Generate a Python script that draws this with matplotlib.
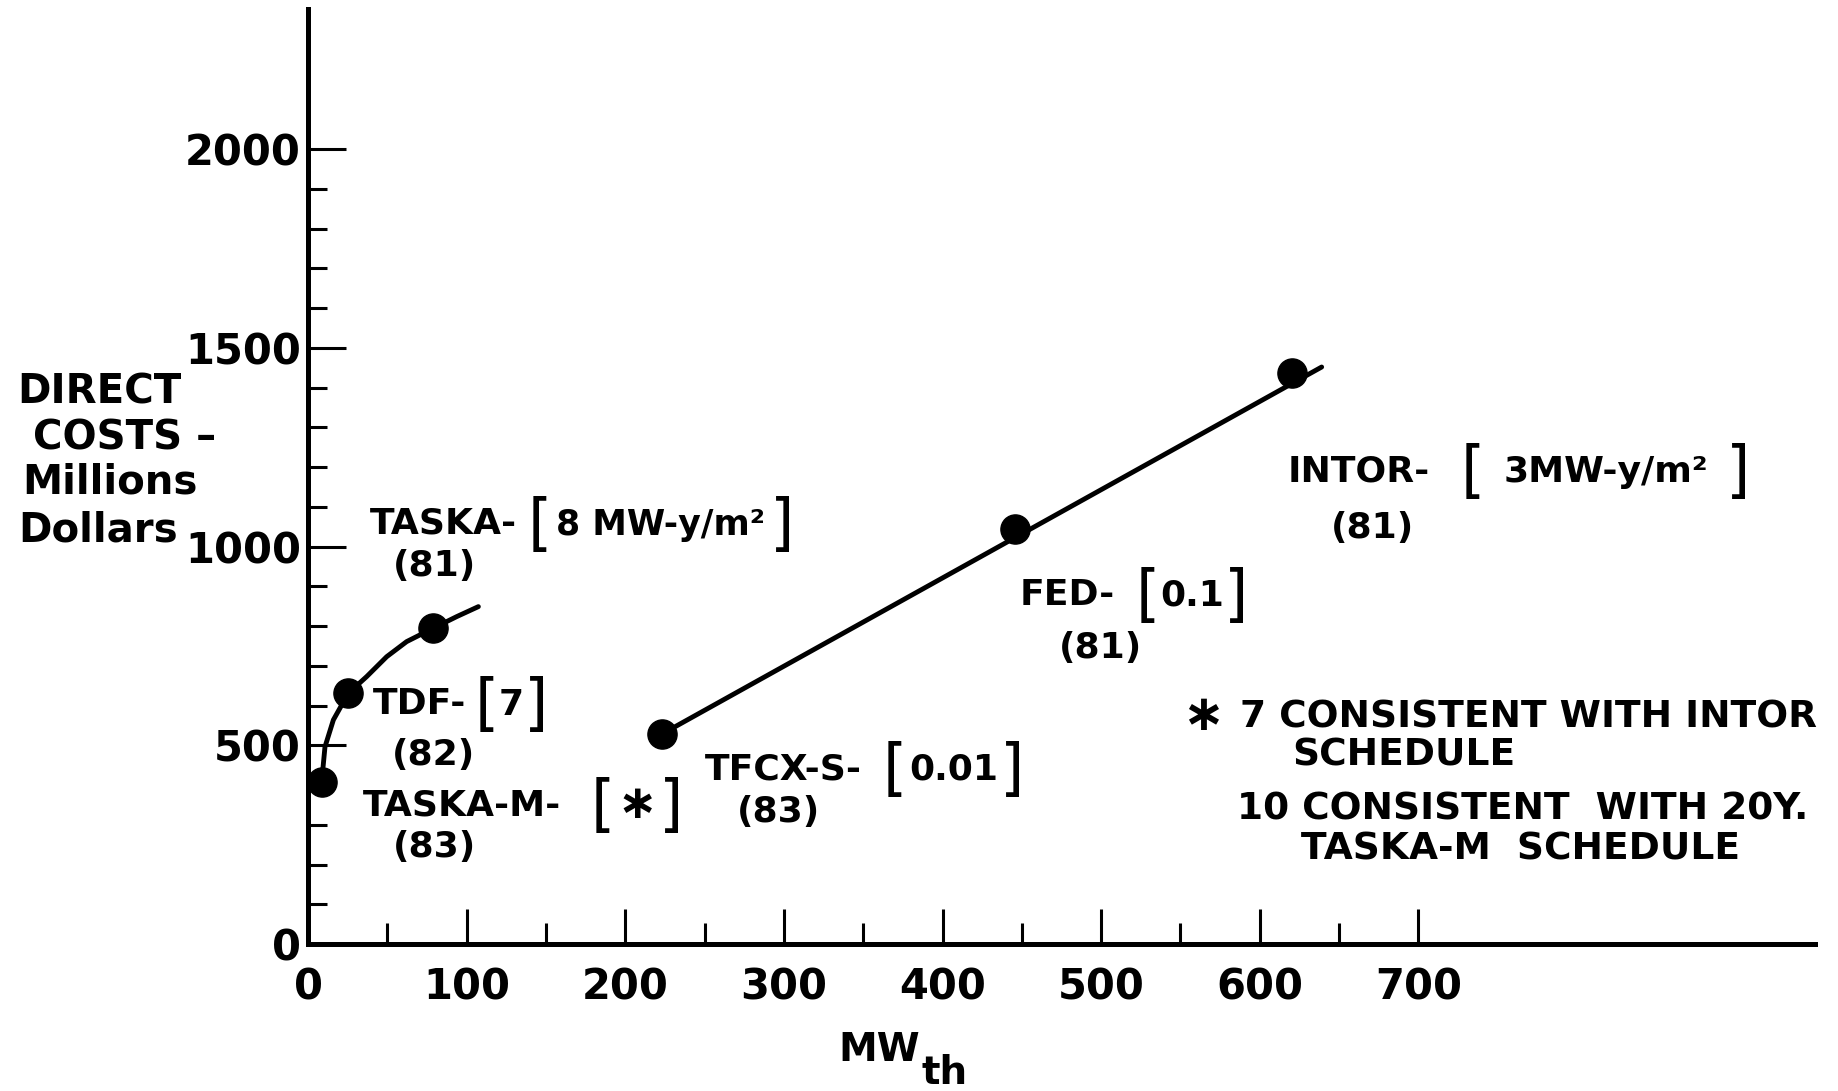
import matplotlib.pyplot as plt

plt.rcParams['font.family'] = ['DejaVu Sans']
plt.rcParams['font.weight'] = 'bold'

# design points: thermal power (MW_th) vs direct cost (millions $)
machines = ["TASKA-M", "TDF", "TASKA", "TFCX-S", "FED", "INTOR"]
mw_th = [8.6, 25.4, 78.6, 223.4, 446, 620]
cost = [408, 631, 794, 529, 1045, 1437]
fluence = ["∗", "7", "8 MW-y/m²", "0.01", "0.1", "3MW-y/m²"]
years = ["(83)", "(82)", "(81)", "(83)", "(81)", "(81)"]

# hand-drawn trend through the small machines
curve_mw = [8.6, 10.7, 16, 25.4, 37, 49.6, 62.2, 78.6, 93.8, 107.4]
curve_cost = [408, 496, 564, 631, 673, 723, 761, 794, 824, 849]

# straight trend through the large machines
line_mw = [223.4, 639]
line_cost = [529, 1452]

x_ticks = [0, 100, 200, 300, 400, 500, 600, 700]
y_ticks = [0, 500, 1000, 1500, 2000]

footnote = ["7 CONSISTENT WITH INTOR", "SCHEDULE",
            "10 CONSISTENT  WITH 20Y.", "TASKA-M  SCHEDULE"]

W, H = 1838, 1091
fig = plt.figure(figsize=(W / 100, H / 100), dpi=100)
ax = fig.add_axes([308 / W, 1 - 944 / H, 1507 / W, 935 / H])


def put(x, y, s, size, ha='left', va='center', weight='bold'):
    # place text by pixel position in the 1838x1091 figure
    fig.text(x / W, 1 - y / H, s, fontsize=size, ha=ha, va=va,
             color='black', fontweight=weight)


ax.plot(curve_mw, curve_cost, color='black', lw=3.5, solid_capstyle='round', clip_on=False)
ax.plot(line_mw, line_cost, color='black', lw=3.5, solid_capstyle='round', clip_on=False)
ax.plot(mw_th, cost, 'o', color='black', ms=21, clip_on=False, zorder=5)

ax.set_xlim(0, 950)
ax.set_ylim(0, 2353)
ax.spines[['top', 'right']].set_visible(False)
for s in ['left', 'bottom']:
    ax.spines[s].set_linewidth(3.6)

ax.set_xticks(x_ticks)
ax.set_xticks([t + 50 for t in x_ticks[:-1]], minor=True)
ax.set_yticks(y_ticks)
ax.set_yticks([v for v in range(100, 2000, 100) if v % 500], minor=True)
ax.tick_params(axis='x', which='major', direction='in', length=25, width=2.2, pad=16, labelsize=30)
ax.tick_params(axis='x', which='minor', direction='in', length=15, width=2.2)
ax.tick_params(axis='y', which='major', direction='in', length=27, width=2.2, pad=5, labelsize=30)
ax.tick_params(axis='y', which='minor', direction='in', length=14, width=2.2)

# axis titles
put(17, 392, "DIRECT", 29)
put(33, 438, "COSTS –", 29)
put(22, 482, "Millions", 29)
put(18, 530, "Dollars", 29)
put(838, 1050, "MW", 28)
put(922, 1073, "th", 28)

# point labels: (prefix left, text y, "[" centre, inner centre, inner size, "]" centre, year left, year y)
layout = [
    (363, 805, 603, 637, 34, 671, 393, 847),
    (373, 704, 487, 511, 26, 536, 392, 755),
    (370, 524, 540, 661, 25, 782, 393, 566),
    (705, 769, 895, 954, 26, 1012, 737, 812),
    (1020, 595, 1148, 1192, 26, 1236, 1059, 648),
    (1288, 471, 1473, 1606, 26, 1738, 1331, 528),
]
for name, flu, yr, pos in zip(machines, fluence, years, layout):
    px0, ty, bo, inner, isz, bc, yx, yy = pos
    put(px0, ty, name + "-", 26)
    put(bo, ty + 2, "[", 45, ha='center', weight='normal')
    put(inner, ty + 1, flu, isz, ha='center')
    put(bc, ty + 2, "]", 45, ha='center', weight='normal')
    put(yx, yy, yr, 26)

# footnote
put(1203, 716, "∗", 36, ha='center')
put(1240, 718, footnote[0], 27)
put(1292, 756, footnote[1], 27)
put(1237, 810, footnote[2], 27)
put(1301, 850, footnote[3], 27)

fig.savefig("out.png", dpi=100, facecolor='white')
